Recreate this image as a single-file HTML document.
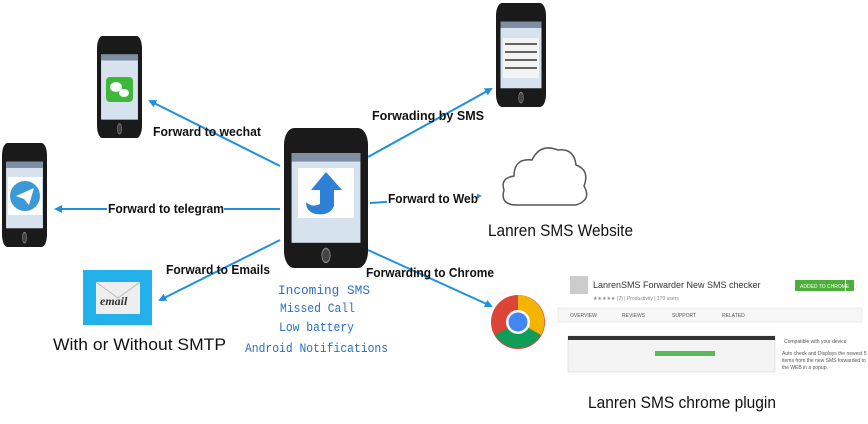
<!DOCTYPE html>
<html><head><meta charset="utf-8"><style>
body{margin:0;background:#fff;width:868px;height:424px;overflow:hidden}
svg{display:block}
.l{font-family:"Liberation Sans",sans-serif;font-weight:bold;font-size:12.5px;fill:#111}
.b{font-family:"Liberation Mono",monospace;font-size:13px;fill:#2a6fc4}
.t{font-family:"Liberation Sans",sans-serif;font-size:17px;fill:#111}
</style></head><body>
<svg width="868" height="424" viewBox="0 0 868 424">
<defs>
<marker id="a" markerWidth="8" markerHeight="8" refX="6" refY="4" orient="auto" markerUnits="userSpaceOnUse"><path d="M0,0 L8,4 L0,8 z" fill="#1e90dc"/></marker>
<g id="ph">
<rect x="0" y="0" width="100" height="100" rx="12" fill="#1a1a1a"/>
<rect x="9" y="18" width="82" height="64" fill="#d6e3ee"/>
<rect x="9" y="18" width="82" height="6" fill="#7e8fa3"/>
<circle cx="50" cy="91" r="5" fill="#444" stroke="#888" stroke-width="1"/>
</g>
</defs>
<g stroke="#1e90dc" stroke-width="2" fill="none" marker-end="url(#a)">
<line x1="280" y1="166" x2="150" y2="101"/>
<line x1="280" y1="209" x2="56" y2="209"/>
<line x1="280" y1="240" x2="160" y2="300"/>
<line x1="368" y1="157" x2="491" y2="89"/>
<line x1="370" y1="203" x2="480" y2="196"/>
<line x1="368" y1="250" x2="491" y2="306"/>
</g>
<svg x="284" y="128" width="84" height="140" viewBox="0 0 100 100" preserveAspectRatio="none"><use href="#ph"/></svg>
<svg x="97" y="36" width="45" height="102" viewBox="0 0 100 100" preserveAspectRatio="none"><use href="#ph"/></svg>
<svg x="2" y="143" width="45" height="104" viewBox="0 0 100 100" preserveAspectRatio="none"><use href="#ph"/></svg>
<svg x="496" y="3" width="50" height="104" viewBox="0 0 100 100" preserveAspectRatio="none"><use href="#ph"/></svg>
<rect x="298" y="168" width="56" height="50" fill="#fff"/>
<path d="M326,172 L342,190 L334,190 L334,206 Q330,216 316,214 Q306,212 306,202 Q312,208 320,204 L320,190 L311,190 Z" fill="#2e7fd6"/>
<rect x="106" y="77" width="27" height="25" rx="4" fill="#3db83a"/>
<ellipse cx="116" cy="87" rx="6" ry="5" fill="#fff"/><ellipse cx="124" cy="93" rx="5" ry="4" fill="#fff"/>
<rect x="8" y="177" width="34" height="38" fill="#fff"/>
<circle cx="25" cy="196" r="15" fill="#3b9ad6"/>
<path d="M16,196 L34,188 L29,205 L24,199 Z" fill="#fff"/>
<rect x="503" y="38" width="36" height="40" fill="#f4f4f4"/>
<g stroke="#333" stroke-width="1.5"><line x1="505" y1="44" x2="537" y2="44"/><line x1="505" y1="52" x2="537" y2="52"/><line x1="505" y1="60" x2="537" y2="60"/><line x1="505" y1="68" x2="537" y2="68"/></g>
<path d="M515,205 Q500,204 504,190 Q500,178 514,176 Q514,158 532,160 Q540,143 558,150 Q574,148 576,165 Q590,170 584,186 Q592,200 576,205 Z" fill="#fff" stroke="#555" stroke-width="1.5"/>
<rect x="83" y="270" width="69" height="55" fill="#22b1ea"/>
<rect x="96" y="282" width="44" height="32" fill="#eee"/>
<path d="M96,282 L118,298 L140,282" fill="none" stroke="#bbb"/>
<text x="100" y="305" font-family="Liberation Serif" font-style="italic" font-weight="bold" font-size="12" fill="#333">email</text>
<circle cx="518" cy="322" r="27" fill="#db4437"/>
<path d="M518,322 L541,335 A27,27 0 0 1 495,335 Z" fill="#0f9d58"/>
<path d="M518,322 L541,335 A27,27 0 0 0 518,295 Z" fill="#f4b400"/>
<circle cx="518" cy="322" r="12" fill="#fff"/><circle cx="518" cy="322" r="9.5" fill="#4285f4"/>
<rect x="558" y="268" width="304" height="104" fill="#fff"/>
<rect x="570" y="276" width="18" height="18" fill="#ccc"/>
<text x="593" y="288" font-family="Liberation Sans" font-size="9" fill="#333">LanrenSMS Forwarder New SMS checker</text>
<text x="593" y="300" font-family="Liberation Sans" font-size="5" fill="#888">★★★★★ (2) | Productivity | 170 users</text>
<rect x="795" y="280" width="50" height="11" fill="#4caf3a"/><rect x="846" y="280" width="8" height="11" fill="#4caf3a"/>
<text x="800" y="288" font-family="Liberation Sans" font-size="5" fill="#fff">ADDED TO CHROME</text>
<rect x="558" y="308" width="304" height="14" fill="#f6f6f6" stroke="#ddd" stroke-width="0.5"/>
<g font-family="Liberation Sans" font-size="5" fill="#555"><text x="570" y="317">OVERVIEW</text><text x="622" y="317">REVIEWS</text><text x="672" y="317">SUPPORT</text><text x="722" y="317">RELATED</text>
<text x="784" y="343">Compatible with your device</text><text x="782" y="355">Auto check and Displays the newest 5</text><text x="782" y="362">items from the new SMS forwarded to</text><text x="782" y="369">the WEB in a popup.</text></g>
<rect x="568" y="336" width="207" height="36" fill="#f3f3f3" stroke="#ccc" stroke-width="0.5"/>
<rect x="568" y="336" width="207" height="4" fill="#333"/>
<rect x="655" y="351" width="60" height="5" fill="#5cb85c"/>
<g lengthAdjust="spacingAndGlyphs">
<text class="l" x="153" y="136" textLength="108" lengthAdjust="spacingAndGlyphs">Forward to wechat</text>
<rect x="107" y="201" width="117" height="15" fill="#fff"/>
<text class="l" x="108" y="213" textLength="116" lengthAdjust="spacingAndGlyphs">Forward to telegram</text>
<text class="l" x="166" y="274" textLength="104" lengthAdjust="spacingAndGlyphs">Forward to Emails</text>
<text class="l" x="372" y="120" textLength="112" lengthAdjust="spacingAndGlyphs">Forwading by SMS</text>
<rect x="387" y="191" width="90" height="14" fill="#fff"/>
<text class="l" x="388" y="203" textLength="90" lengthAdjust="spacingAndGlyphs">Forward to Web</text>
<text class="l" x="366" y="277" textLength="128" lengthAdjust="spacingAndGlyphs">Forwarding to Chrome</text>
<text class="b" x="278" y="294" textLength="92" lengthAdjust="spacingAndGlyphs">Incoming SMS</text>
<text class="b" x="280" y="312" textLength="75" lengthAdjust="spacingAndGlyphs">Missed Call</text>
<text class="b" x="279" y="331" textLength="75" lengthAdjust="spacingAndGlyphs">Low battery</text>
<text class="b" x="245" y="352" textLength="143" lengthAdjust="spacingAndGlyphs">Android Notifications</text>
<text class="t" x="488" y="236" textLength="145" lengthAdjust="spacingAndGlyphs">Lanren SMS Website</text>
<text class="t" x="53" y="350" textLength="173" lengthAdjust="spacingAndGlyphs">With or Without SMTP</text>
<text class="t" x="588" y="408" textLength="188" lengthAdjust="spacingAndGlyphs">Lanren SMS chrome plugin</text>
</g>
</svg>
</body></html>
